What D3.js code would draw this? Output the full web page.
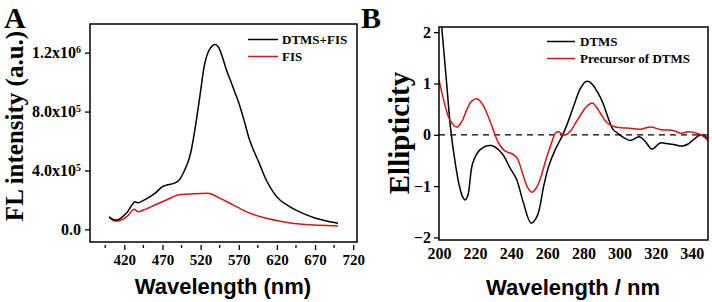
<!DOCTYPE html>
<html>
<head>
<meta charset="utf-8">
<script src="https://cdn.jsdelivr.net/npm/d3@7"></script>
<style>
  body { margin: 0; background: #fff; }
  svg { display: block; }
</style>
</head>
<body>
<div id="chart-area"></div>
<script>
// Panel A: fluorescence spectra
var dtmsFisWl = [400, 405, 410, 415, 420, 425, 430, 434, 438, 442, 450, 460, 470, 475, 485, 492, 498, 503, 507, 510,
  515, 520, 525, 530, 535, 539, 543, 548, 554, 560, 565, 570, 577, 584, 590, 596, 606, 615, 624, 635, 645, 658, 671, 685, 700];
var dtmsFisVal = [84000, 68000, 63000, 75000, 97000, 125000, 165000, 187000, 180000, 188000, 210000, 244000, 290000, 300000,
  312000, 335000, 390000, 450000, 520000, 600000, 760000, 940000, 1115000, 1205000, 1245000, 1255000, 1240000, 1180000,
  1080000, 1000000, 930000, 860000, 740000, 610000, 530000, 460000, 335000, 255000, 199000, 160000, 131000, 100000, 75000, 56000, 41000];
var fisWl = [400, 405, 410, 415, 420, 425, 430, 433, 438, 445, 460, 475, 490, 505, 520, 532, 545, 563, 585, 606, 628, 650, 675, 700];
var fisVal = [84000, 62000, 56000, 62000, 75000, 95000, 126000, 136000, 120000, 131000, 165000, 199000, 233000, 240000,
  243000, 243000, 212000, 165000, 109000, 75000, 52000, 36000, 28000, 22000];
var xTicksA = [420, 470, 520, 570, 620, 670, 720];
var yTicksA = [0, 400000, 800000, 1200000];
var yTickLabelsA = [["0.0", ""], ["4.0x10", "5"], ["8.0x10", "5"], ["1.2x10", "6"]];

// Panel B: CD spectra
var dtmsWl = [200, 202, 204, 206.5, 209, 211.3, 213, 214.5, 216, 218.7, 222.8, 229, 234.8, 239.4, 243, 246.8, 251, 254.3,
  258, 260.7, 264.4, 268, 270, 272, 275, 278, 281, 283, 285, 288, 291, 294, 296.5, 299, 302.5, 306, 311, 314, 318, 322.5,
  326, 330, 335, 338, 341.5, 345, 349];
var dtmsVal = [2.7, 1.9, 1.1, 0.1, -0.55, -1.0, -1.2, -1.27, -1.18, -0.55, -0.29, -0.21, -0.36, -0.65, -0.87, -1.33, -1.72,
  -1.59, -1.0, -0.62, -0.29, -0.04, 0.12, 0.3, 0.6, 0.88, 1.03, 1.04, 0.98, 0.82, 0.6, 0.3, 0.1, 0.03, -0.06, -0.11, -0.04,
  -0.12, -0.28, -0.16, -0.17, -0.19, -0.22, -0.18, -0.08, 0.0, -0.07];
var precWl = [200, 203.3, 206, 209.8, 212.5, 215.4, 218, 221, 224, 226.5, 229, 231, 233, 236.7, 240.4, 243.2, 246.8, 249,
  251.5, 254, 256, 259.8, 262.6, 264.4, 266, 268, 270, 273, 276, 279, 282, 285, 287, 289.4, 293.2, 297.8, 304.3, 311.7,
  317.2, 322.8, 330.2, 333.9, 338.5, 345, 349.5];
var precVal = [1.07, 0.58, 0.29, 0.15, 0.25, 0.49, 0.65, 0.7, 0.6, 0.42, 0.2, 0.0, -0.16, -0.32, -0.37, -0.45, -0.81, -1.02,
  -1.12, -1.03, -0.87, -0.42, -0.13, 0.03, 0.06, 0.02, 0.0, 0.08, 0.25, 0.42, 0.56, 0.62, 0.55, 0.42, 0.23, 0.15, 0.13,
  0.11, 0.15, 0.1, 0.08, 0.03, 0.06, 0.0, -0.13];
var xTicksB = [200, 220, 240, 260, 280, 300, 320, 340];
var yTicksB = [-2, -1, 0, 1, 2];

var RED = "#d01818";
var SERIF = "'Liberation Serif', 'Times New Roman', serif";
var SANS = "'Liberation Sans', Arial, sans-serif";

var svg = d3.select("#chart-area")
  .append("svg")
  .attr("width", 712)
  .attr("height", 302);

function zip(xs, ys) {
  return xs.map(function(x, i) { return { x: x, y: ys[i] }; });
}

// ---------- Panel A ----------
var xA = d3.scaleLinear().domain([375, 725]).range([90, 357]);
var yA = d3.scaleLinear().domain([-86000, 1395000]).range([242, 24]);

svg.append("defs").append("clipPath").attr("id", "clipA")
  .append("rect").attr("x", 90).attr("y", 24).attr("width", 267).attr("height", 218);

var lineA = d3.line()
  .x(function(d) { return xA(d.x); })
  .y(function(d) { return yA(d.y); })
  .curve(d3.curveCatmullRom.alpha(0.5));

svg.append("path")
  .datum(zip(fisWl, fisVal))
  .attr("clip-path", "url(#clipA)")
  .attr("fill", "none").attr("stroke", RED).attr("stroke-width", 1.5)
  .attr("d", lineA);

svg.append("path")
  .datum(zip(dtmsFisWl, dtmsFisVal))
  .attr("clip-path", "url(#clipA)")
  .attr("fill", "none").attr("stroke", "#000").attr("stroke-width", 1.5)
  .attr("d", lineA);

svg.append("rect")
  .attr("x", 90).attr("y", 24).attr("width", 267).attr("height", 218)
  .attr("fill", "none").attr("stroke", "#000").attr("stroke-width", 1.5);

// y axis A
var yAxisA = svg.append("g")
  .attr("transform", "translate(90,0)")
  .call(d3.axisLeft(yA).tickValues(yTicksA).tickSize(5).tickPadding(4).tickFormat(""));
yAxisA.select(".domain").remove();
yAxisA.selectAll("line").attr("stroke-width", 1.3);
yAxisA.selectAll(".tick text")
  .attr("font-family", SERIF).attr("font-weight", "bold").attr("font-size", "16px").attr("fill", "#000")
  .each(function(d, i) {
    var t = d3.select(this);
    t.append("tspan").text(yTickLabelsA[i][0]);
    if (yTickLabelsA[i][1]) {
      t.append("tspan").attr("dy", "-0.5em").attr("font-size", "10px").text(yTickLabelsA[i][1]);
    }
  });

// x axis A (major + minor ticks)
var xAxisA = svg.append("g")
  .attr("transform", "translate(0,245)")
  .call(d3.axisBottom(xA).tickValues(xTicksA).tickSize(5).tickPadding(4).tickFormat(d3.format("d")));
xAxisA.select(".domain").remove();
xAxisA.selectAll("line").attr("stroke-width", 1.3);
xAxisA.selectAll("text")
  .attr("font-family", SERIF).attr("font-weight", "bold").attr("font-size", "15px").attr("fill", "#000");
svg.append("g")
  .selectAll("line")
  .data(xTicksA.map(function(d) { return d - 25; }))
  .enter().append("line")
  .attr("x1", function(d) { return xA(d); }).attr("x2", function(d) { return xA(d); })
  .attr("y1", 245).attr("y2", 248)
  .attr("stroke", "#000").attr("stroke-width", 1.3);

svg.append("text")
  .attr("x", 223).attr("y", 294)
  .attr("text-anchor", "middle")
  .attr("font-family", SANS).attr("font-weight", "bold").attr("font-size", "22px")
  .text("Wavelength (nm)");

svg.append("text")
  .attr("transform", "translate(23,126) rotate(-90)")
  .attr("text-anchor", "middle")
  .attr("font-family", SERIF).attr("font-weight", "bold").attr("font-size", "25px")
  .text("FL intensity (a.u.)");

svg.append("text")
  .attr("x", 4).attr("y", 28)
  .attr("font-family", SERIF).attr("font-weight", "bold").attr("font-size", "30px")
  .text("A");

// legend A
var legendA = [["DTMS+FIS", "#000"], ["FIS", RED]];
legendA.forEach(function(l, i) {
  var ly = 39.5 + i * 17;
  svg.append("line").attr("x1", 248).attr("x2", 278).attr("y1", ly).attr("y2", ly)
    .attr("stroke", l[1]).attr("stroke-width", 1.5);
  svg.append("text").attr("x", 282).attr("y", ly + 4.5)
    .attr("font-family", SERIF).attr("font-weight", "bold").attr("font-size", "13px")
    .text(l[0]);
});

// ---------- Panel B ----------
var xB = d3.scaleLinear().domain([200, 349]).range([439, 708]);
var yB = d3.scaleLinear().domain([-2.05, 2.1]).range([240, 27]);

svg.select("defs").append("clipPath").attr("id", "clipB")
  .append("rect").attr("x", 439).attr("y", 27).attr("width", 269).attr("height", 213);

var lineB = d3.line()
  .x(function(d) { return xB(d.x); })
  .y(function(d) { return yB(d.y); })
  .curve(d3.curveCatmullRom.alpha(0.5));

svg.append("line")
  .attr("x1", xB(200)).attr("x2", xB(349)).attr("y1", yB(0)).attr("y2", yB(0))
  .attr("stroke", "#000").attr("stroke-width", 1.3).attr("stroke-dasharray", "6,5");

svg.append("path")
  .datum(zip(dtmsWl, dtmsVal))
  .attr("clip-path", "url(#clipB)")
  .attr("fill", "none").attr("stroke", "#000").attr("stroke-width", 1.5)
  .attr("d", lineB);

svg.append("path")
  .datum(zip(precWl, precVal))
  .attr("clip-path", "url(#clipB)")
  .attr("fill", "none").attr("stroke", RED).attr("stroke-width", 1.5)
  .attr("d", lineB);

svg.append("rect")
  .attr("x", 439).attr("y", 27).attr("width", 269).attr("height", 213)
  .attr("fill", "none").attr("stroke", "#000").attr("stroke-width", 1.5);

var yAxisB = svg.append("g")
  .attr("transform", "translate(439,0)")
  .call(d3.axisLeft(yB).tickValues(yTicksB).tickSize(5).tickPadding(3).tickFormat(d3.format("d")));
yAxisB.select(".domain").remove();
yAxisB.selectAll("line").attr("stroke-width", 1.3);
yAxisB.selectAll("text")
  .attr("font-family", SERIF).attr("font-weight", "bold").attr("font-size", "16px").attr("fill", "#000");

var xAxisB = svg.append("g")
  .attr("transform", "translate(0,240)")
  .call(d3.axisBottom(xB).tickValues(xTicksB).tickSize(0).tickPadding(8).tickFormat(d3.format("d")));
xAxisB.select(".domain").remove();
xAxisB.selectAll("text")
  .attr("font-family", SERIF).attr("font-weight", "bold").attr("font-size", "16px").attr("fill", "#000");

svg.append("text")
  .attr("x", 573).attr("y", 295)
  .attr("text-anchor", "middle")
  .attr("font-family", SANS).attr("font-weight", "bold").attr("font-size", "22px")
  .text("Wavelength / nm");

svg.append("text")
  .attr("transform", "translate(409,133) rotate(-90)")
  .attr("text-anchor", "middle")
  .attr("font-family", SERIF).attr("font-weight", "bold").attr("font-size", "29px")
  .text("Ellipticity");

svg.append("text")
  .attr("x", 361).attr("y", 28)
  .attr("font-family", SERIF).attr("font-weight", "bold").attr("font-size", "30px")
  .text("B");

// legend B
var legendB = [["DTMS", "#000"], ["Precursor of DTMS", RED]];
legendB.forEach(function(l, i) {
  var ly = 41.5 + i * 17;
  svg.append("line").attr("x1", 547).attr("x2", 575).attr("y1", ly).attr("y2", ly)
    .attr("stroke", l[1]).attr("stroke-width", 1.5);
  svg.append("text").attr("x", 580).attr("y", ly + 4.5)
    .attr("font-family", SERIF).attr("font-weight", "bold").attr("font-size", "13px")
    .text(l[0]);
});
</script>
</body>
</html>
